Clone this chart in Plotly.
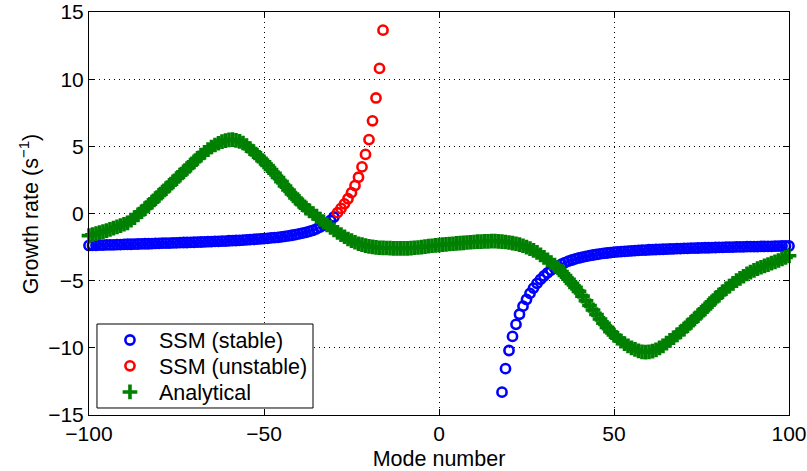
import plotly.graph_objects as go

# Analytical growth rate, one value per mode number -100 .. 100
analytical_modes = list(range(-100, 101))
analytical_rate = [
    -1.65, -1.58, -1.50, -1.43, -1.35, -1.27, -1.18, -1.09, -1.00, -0.90,   # -100 .. -91
    -0.80, -0.70, -0.50, -0.30, -0.10, 0.13, 0.37, 0.60, 0.85, 1.10,        # -90 .. -81
    1.35, 1.60, 1.85, 2.10, 2.35, 2.60, 2.85, 3.10, 3.35, 3.60,             # -80 .. -71
    3.85, 4.10, 4.35, 4.55, 4.75, 4.95, 5.10, 5.23, 5.35, 5.43,             # -70 .. -61
    5.48, 5.50, 5.45, 5.37, 5.25, 5.05, 4.83, 4.60, 4.35, 4.10,             # -60 .. -51
    3.85, 3.57, 3.28, 3.00, 2.68, 2.37, 2.05, 1.75, 1.45, 1.15,             # -50 .. -41
    0.90, 0.65, 0.40, 0.20, 0.00, -0.20, -0.42, -0.63, -0.85, -1.03,        # -40 .. -31
    -1.22, -1.40, -1.57, -1.73, -1.90, -2.02, -2.14, -2.25, -2.32, -2.39,   # -30 .. -21
    -2.45, -2.49, -2.52, -2.55, -2.56, -2.57, -2.58, -2.59, -2.60, -2.60,   # -20 .. -11
    -2.60, -2.59, -2.58, -2.55, -2.53, -2.50, -2.47, -2.43, -2.40, -2.37,   # -10 .. -1
    -2.35,                                                                  # 0
    -2.32, -2.30, -2.27, -2.25, -2.23, -2.20, -2.18, -2.16, -2.14, -2.12,   # 1 .. 10
    -2.10, -2.09, -2.08, -2.07, -2.06, -2.06, -2.07, -2.09, -2.12, -2.16,   # 11 .. 20
    -2.20, -2.25, -2.32, -2.40, -2.50, -2.62, -2.75, -2.90, -3.08, -3.26,   # 21 .. 30
    -3.45, -3.65, -3.85, -4.05, -4.33, -4.62, -4.90, -5.20, -5.50, -5.80,   # 31 .. 40
    -6.15, -6.50, -6.85, -7.18, -7.52, -7.85, -8.17, -8.48, -8.80, -9.05,   # 41 .. 50
    -9.28, -9.50, -9.68, -9.85, -10.00, -10.12, -10.22, -10.30, -10.32, -10.30,  # 51 .. 60
    -10.25, -10.15, -10.00, -9.85, -9.65, -9.45, -9.25, -9.03, -8.82, -8.60,     # 61 .. 70
    -8.35, -8.10, -7.85, -7.60, -7.35, -7.10, -6.83, -6.57, -6.30, -6.07,   # 71 .. 80
    -5.83, -5.60, -5.40, -5.20, -5.00, -4.83, -4.67, -4.50, -4.37, -4.23,   # 81 .. 90
    -4.10, -4.00, -3.90, -3.80, -3.70, -3.60, -3.50, -3.38, -3.27, -3.15,   # 91 .. 100
]

# State-space model, stable eigenmodes (negative branch)
stable_left_modes = list(range(-100, -29))
stable_left_rate = [
    -2.38, -2.37, -2.37, -2.36, -2.35, -2.34, -2.34, -2.33, -2.32, -2.31,   # -100 .. -91
    -2.30, -2.29, -2.29, -2.28, -2.27, -2.26, -2.25, -2.25, -2.24, -2.23,   # -90 .. -81
    -2.22, -2.21, -2.20, -2.20, -2.19, -2.18, -2.17, -2.16, -2.16, -2.15,   # -80 .. -71
    -2.14, -2.13, -2.12, -2.11, -2.10, -2.09, -2.08, -2.07, -2.06, -2.05,   # -70 .. -61
    -2.03, -2.02, -2.01, -2.00, -1.98, -1.96, -1.95, -1.93, -1.91, -1.89,   # -60 .. -51
    -1.87, -1.85, -1.82, -1.80, -1.77, -1.74, -1.70, -1.66, -1.62, -1.57,   # -50 .. -41
    -1.52, -1.46, -1.40, -1.33, -1.25, -1.15, -1.02, -0.88, -0.72, -0.52,   # -40 .. -31
    -0.26,                                                                  # -30
]

# State-space model, stable eigenmodes (positive branch)
stable_right_modes = list(range(18, 101))
stable_right_rate = [
    -13.30, -11.55, -10.20, -9.15, -8.25, -7.50, -6.90, -6.40, -5.95, -5.55,  # 18 .. 27
    -5.20, -4.90, -4.65, -4.42, -4.22, -4.05, -3.90, -3.77, -3.65, -3.55,     # 28 .. 37
    -3.46, -3.38, -3.31, -3.25, -3.19, -3.14, -3.09, -3.05, -3.01, -2.97,     # 38 .. 47
    -2.94, -2.91, -2.88, -2.86, -2.84, -2.82, -2.80, -2.78, -2.76, -2.75,     # 48 .. 57
    -2.73, -2.72, -2.70, -2.69, -2.68, -2.67, -2.66, -2.65, -2.64, -2.63,     # 58 .. 67
    -2.62, -2.61, -2.60, -2.59, -2.58, -2.58, -2.57, -2.56, -2.55, -2.55,     # 68 .. 77
    -2.54, -2.53, -2.52, -2.52, -2.51, -2.50, -2.50, -2.49, -2.49, -2.48,     # 78 .. 87
    -2.47, -2.47, -2.46, -2.46, -2.45, -2.45, -2.44, -2.44, -2.43, -2.43,     # 88 .. 97
    -2.42, -2.42, -2.42,                                                      # 98 .. 100
]

# State-space model, unstable eigenmodes
unstable_modes = list(range(-29, -15))
unstable_rate = [
    0.06, 0.38, 0.72, 1.10, 1.55, 2.08, 2.70, 3.47, 4.40, 5.50,   # -29 .. -20
    6.90, 8.60, 10.80, 13.65,                                      # -19 .. -16
]

x_ticks = [-100, -50, 0, 50, 100]
y_ticks = [-15, -10, -5, 0, 5, 10, 15]

BLUE = "#0000ff"
RED = "#ff0000"
GREEN = "#008000"
FONT = "Liberation Sans, Arial, Helvetica, sans-serif"

circle_marker = dict(symbol="circle-open", size=9.2, line=dict(width=2.6))

fig = go.Figure()
fig.add_trace(go.Scatter(
    x=stable_left_modes + stable_right_modes,
    y=stable_left_rate + stable_right_rate,
    mode="markers", name="SSM (stable)", legend="legend",
    marker=dict(color=BLUE, **circle_marker), cliponaxis=False,
))
fig.add_trace(go.Scatter(
    x=unstable_modes, y=unstable_rate,
    mode="markers", name="SSM (unstable)", legend="legend2",
    marker=dict(color=RED, **circle_marker), cliponaxis=False,
))
fig.add_trace(go.Scatter(
    x=analytical_modes, y=analytical_rate,
    mode="markers", name="Analytical", legend="legend3",
    marker=dict(symbol="cross-thin", size=10.5, color=GREEN,
                line=dict(width=3.6, color=GREEN)),
    cliponaxis=False,
))

axis_common = dict(
    showline=True, linecolor="black", linewidth=1, mirror="ticks",
    ticks="inside", ticklen=6, tickcolor="black", tickwidth=1,
    showgrid=True, gridcolor="black", gridwidth=1, griddash="1px,4px",
    zeroline=False, ticklabeloverflow="allow", automargin=False,
    tickfont=dict(family=FONT, size=21, color="black"),
)

fig.update_xaxes(
    range=[-100, 100], tickvals=x_ticks,
    title=dict(text="Mode number", font=dict(family=FONT, size=21.5, color="black")),
    **axis_common,
)
fig.update_yaxes(range=[-15, 15], tickvals=y_ticks, **axis_common)

# y-axis label, set a little closer to the edge than plotly's default title slot
fig.add_annotation(
    text="Growth rate (s<sup>−1</sup>)", textangle=-90,
    xref="paper", yref="paper", x=-0.0857, y=0.498,
    xanchor="center", yanchor="middle", showarrow=False,
    font=dict(family=FONT, size=21.5, color="black"),
)

# Legend frame (white fill hides the grid behind the entries)
fig.add_shape(
    type="rect", xref="paper", yref="paper",
    x0=0.0114, x1=0.32, y0=0.0174, y1=0.2258,
    fillcolor="white", line=dict(color="black", width=1), layer="above",
)

entry_style = dict(
    x=0.0171, xanchor="left", yanchor="middle",
    bgcolor="rgba(0,0,0,0)", borderwidth=0, itemwidth=48,
    font=dict(family=FONT, size=21.5, color="black"),
)

fig.update_layout(
    width=807, height=471,
    margin=dict(l=89, r=18, t=12, b=56),
    paper_bgcolor="white", plot_bgcolor="white",
    showlegend=True,
    legend=dict(y=0.186, **entry_style),
    legend2=dict(y=0.122, **entry_style),
    legend3=dict(y=0.0571, **entry_style),
)

fig.write_html("out.html")
